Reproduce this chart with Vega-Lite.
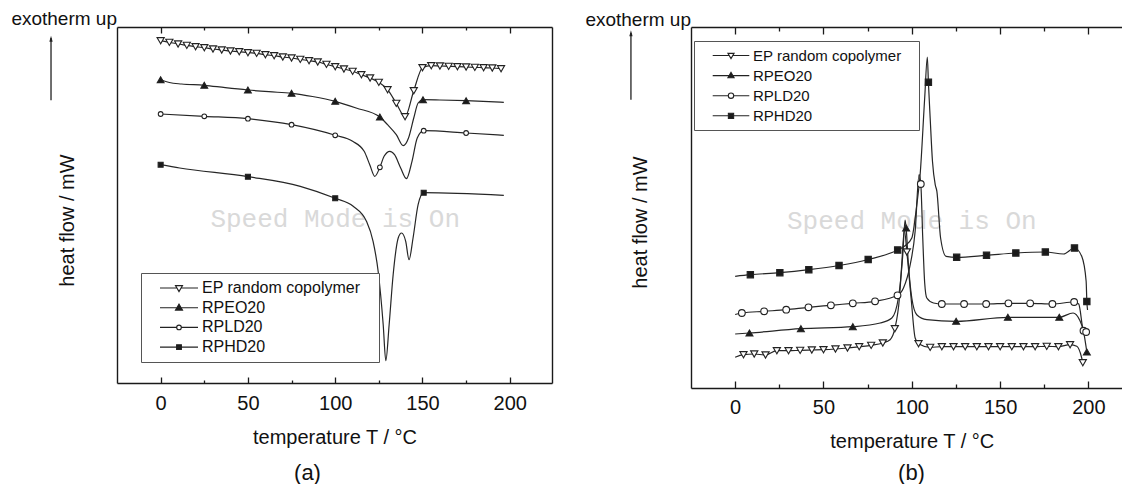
{
"$schema": "https://vega.github.io/schema/vega-lite/v6.json",
"padding": {"left": 11, "top": 10, "right": 0, "bottom": 0},
"bounds": "flush",
"spacing": 139,
"config": {
  "font": "Liberation Sans",
  "view": {"stroke": null},
  "axis": {"grid": false, "domainColor": "#1a1a1a", "domainWidth": 1.4, "tickColor": "#1a1a1a", "tickWidth": 1.3, "labelColor": "#111", "labelFontSize": 20, "labelFont": "Liberation Sans", "titleFont": "Liberation Sans", "titleFontSize": 20, "titleFontWeight": "normal", "titleColor": "#111"},
  "legend": {"labelFont": "Liberation Sans", "labelColor": "#111", "labelLimit": 400},
  "title": {"font": "Liberation Sans", "color": "#111"}
},
"datasets": {
"a_curves": [
{"s":"EP random copolymer","T":0,"v":342.3},{"s":"EP random copolymer","T":5,"v":340.7},{"s":"EP random copolymer","T":10,"v":339},{"s":"EP random copolymer","T":15,"v":337.7},{"s":"EP random copolymer","T":20,"v":336.3},{"s":"EP random copolymer","T":25,"v":335.3},{"s":"EP random copolymer","T":30,"v":334},{"s":"EP random copolymer","T":35,"v":333},{"s":"EP random copolymer","T":40,"v":332},{"s":"EP random copolymer","T":45,"v":331.3},{"s":"EP random copolymer","T":50,"v":330.3},{"s":"EP random copolymer","T":55,"v":329.7},{"s":"EP random copolymer","T":60,"v":328.3},{"s":"EP random copolymer","T":65,"v":327.3},{"s":"EP random copolymer","T":70,"v":326},{"s":"EP random copolymer","T":75,"v":325},{"s":"EP random copolymer","T":80,"v":323.7},{"s":"EP random copolymer","T":85,"v":322.3},{"s":"EP random copolymer","T":90,"v":321},{"s":"EP random copolymer","T":95,"v":318.7},{"s":"EP random copolymer","T":100,"v":316.3},{"s":"EP random copolymer","T":105,"v":314},{"s":"EP random copolymer","T":110,"v":311.7},{"s":"EP random copolymer","T":115,"v":308.3},{"s":"EP random copolymer","T":120,"v":305},{"s":"EP random copolymer","T":125,"v":300.7},{"s":"EP random copolymer","T":130,"v":293.3},{"s":"EP random copolymer","T":135,"v":279.7},{"s":"EP random copolymer","T":140,"v":266.3},{"s":"EP random copolymer","T":145,"v":292.3},{"s":"EP random copolymer","T":150,"v":315.3},{"s":"EP random copolymer","T":155,"v":317.3},{"s":"EP random copolymer","T":160,"v":317},{"s":"EP random copolymer","T":165,"v":316.7},{"s":"EP random copolymer","T":170,"v":316.3},{"s":"EP random copolymer","T":175,"v":316},{"s":"EP random copolymer","T":180,"v":315.7},{"s":"EP random copolymer","T":185,"v":315.3},{"s":"EP random copolymer","T":190,"v":315},{"s":"EP random copolymer","T":195,"v":314.3},
{"s":"RPEO20","T":0,"v":303.3},{"s":"RPEO20","T":5,"v":300.5},{"s":"RPEO20","T":12,"v":299},{"s":"RPEO20","T":25,"v":297.7},{"s":"RPEO20","T":37,"v":295.3},{"s":"RPEO20","T":50,"v":293},{"s":"RPEO20","T":62,"v":291.3},{"s":"RPEO20","T":75,"v":289.7},{"s":"RPEO20","T":87,"v":286.5},{"s":"RPEO20","T":100,"v":281.7},{"s":"RPEO20","T":112,"v":275},{"s":"RPEO20","T":125.6,"v":266},{"s":"RPEO20","T":130,"v":258.3},{"s":"RPEO20","T":135,"v":248.3},{"s":"RPEO20","T":139,"v":237.3},{"s":"RPEO20","T":142,"v":245},{"s":"RPEO20","T":145,"v":265},{"s":"RPEO20","T":147.5,"v":280},{"s":"RPEO20","T":150.3,"v":283.3},{"s":"RPEO20","T":160,"v":283},{"s":"RPEO20","T":175,"v":282.3},{"s":"RPEO20","T":196.6,"v":280.7},
{"s":"RPLD20","T":0,"v":269},{"s":"RPLD20","T":25,"v":266.7},{"s":"RPLD20","T":50,"v":264.3},{"s":"RPLD20","T":75,"v":258.3},{"s":"RPLD20","T":100,"v":247.7},{"s":"RPLD20","T":110,"v":241.7},{"s":"RPLD20","T":116.6,"v":231.7},{"s":"RPLD20","T":119.8,"v":218.3},{"s":"RPLD20","T":122.7,"v":206.7},{"s":"RPLD20","T":125.6,"v":215.7},{"s":"RPLD20","T":128,"v":226.7},{"s":"RPLD20","T":131.3,"v":231.7},{"s":"RPLD20","T":134,"v":228.3},{"s":"RPLD20","T":137.5,"v":215},{"s":"RPLD20","T":140.8,"v":204.3},{"s":"RPLD20","T":144,"v":221.7},{"s":"RPLD20","T":147,"v":245},{"s":"RPLD20","T":150.7,"v":252.3},{"s":"RPLD20","T":175,"v":250},{"s":"RPLD20","T":196.6,"v":247.7},
{"s":"RPHD20","T":0,"v":218.3},{"s":"RPHD20","T":10.9,"v":215},{"s":"RPHD20","T":50,"v":206.3},{"s":"RPHD20","T":80,"v":196.7},{"s":"RPHD20","T":100,"v":184.7},{"s":"RPHD20","T":110.3,"v":176.7},{"s":"RPHD20","T":117.9,"v":161.7},{"s":"RPHD20","T":121.7,"v":141.7},{"s":"RPHD20","T":124.6,"v":111.7},{"s":"RPHD20","T":127.5,"v":58.3},{"s":"RPHD20","T":129,"v":22.3},{"s":"RPHD20","T":130.9,"v":58.3},{"s":"RPHD20","T":133.2,"v":108.3},{"s":"RPHD20","T":136.1,"v":145},{"s":"RPHD20","T":138,"v":150},{"s":"RPHD20","T":140.4,"v":141.7},{"s":"RPHD20","T":142.3,"v":123.3},{"s":"RPHD20","T":144.6,"v":145},{"s":"RPHD20","T":147.5,"v":178.3},{"s":"RPHD20","T":150.7,"v":190.3},{"s":"RPHD20","T":196.6,"v":187.7}
],
"a_marks": [
{"s":"EP random copolymer","T":0,"v":342.3},{"s":"EP random copolymer","T":5,"v":340.7},{"s":"EP random copolymer","T":10,"v":339},{"s":"EP random copolymer","T":15,"v":337.7},{"s":"EP random copolymer","T":20,"v":336.3},{"s":"EP random copolymer","T":25,"v":335.3},{"s":"EP random copolymer","T":30,"v":334},{"s":"EP random copolymer","T":35,"v":333},{"s":"EP random copolymer","T":40,"v":332},{"s":"EP random copolymer","T":45,"v":331.3},{"s":"EP random copolymer","T":50,"v":330.3},{"s":"EP random copolymer","T":55,"v":329.7},{"s":"EP random copolymer","T":60,"v":328.3},{"s":"EP random copolymer","T":65,"v":327.3},{"s":"EP random copolymer","T":70,"v":326},{"s":"EP random copolymer","T":75,"v":325},{"s":"EP random copolymer","T":80,"v":323.7},{"s":"EP random copolymer","T":85,"v":322.3},{"s":"EP random copolymer","T":90,"v":321},{"s":"EP random copolymer","T":95,"v":318.7},{"s":"EP random copolymer","T":100,"v":316.3},{"s":"EP random copolymer","T":105,"v":314},{"s":"EP random copolymer","T":110,"v":311.7},{"s":"EP random copolymer","T":115,"v":308.3},{"s":"EP random copolymer","T":120,"v":305},{"s":"EP random copolymer","T":125,"v":300.7},{"s":"EP random copolymer","T":130,"v":293.3},{"s":"EP random copolymer","T":135,"v":279.7},{"s":"EP random copolymer","T":140,"v":266.3},{"s":"EP random copolymer","T":145,"v":292.3},{"s":"EP random copolymer","T":150,"v":315.3},{"s":"EP random copolymer","T":155,"v":317.3},{"s":"EP random copolymer","T":160,"v":317},{"s":"EP random copolymer","T":165,"v":316.7},{"s":"EP random copolymer","T":170,"v":316.3},{"s":"EP random copolymer","T":175,"v":316},{"s":"EP random copolymer","T":180,"v":315.7},{"s":"EP random copolymer","T":185,"v":315.3},{"s":"EP random copolymer","T":190,"v":315},{"s":"EP random copolymer","T":195,"v":314.3},
{"s":"RPEO20","T":0,"v":303.3},{"s":"RPEO20","T":25,"v":297.7},{"s":"RPEO20","T":50,"v":293},{"s":"RPEO20","T":75,"v":289.7},{"s":"RPEO20","T":100,"v":281.7},{"s":"RPEO20","T":125.6,"v":266},{"s":"RPEO20","T":150.3,"v":283.3},{"s":"RPEO20","T":175,"v":282.3},
{"s":"RPLD20","T":0,"v":269},{"s":"RPLD20","T":25,"v":266.7},{"s":"RPLD20","T":50,"v":264.3},{"s":"RPLD20","T":75,"v":258.3},{"s":"RPLD20","T":100,"v":247.7},{"s":"RPLD20","T":125.6,"v":215.7},{"s":"RPLD20","T":150.7,"v":252.3},{"s":"RPLD20","T":175,"v":250},
{"s":"RPHD20","T":0,"v":218.3},{"s":"RPHD20","T":50,"v":206.3},{"s":"RPHD20","T":100,"v":184.7},{"s":"RPHD20","T":150.7,"v":190.3}
],
"b_curves": [
{"s":"EP random copolymer","T":0,"v":30.7},{"s":"EP random copolymer","T":4.7,"v":33.3},{"s":"EP random copolymer","T":10.8,"v":34},{"s":"EP random copolymer","T":17.2,"v":33},{"s":"EP random copolymer","T":23.6,"v":37.3},{"s":"EP random copolymer","T":30.2,"v":37.3},{"s":"EP random copolymer","T":36.8,"v":37.7},{"s":"EP random copolymer","T":43.4,"v":38},{"s":"EP random copolymer","T":50,"v":38.3},{"s":"EP random copolymer","T":56.8,"v":39},{"s":"EP random copolymer","T":63.6,"v":40},{"s":"EP random copolymer","T":70.2,"v":41.3},{"s":"EP random copolymer","T":77,"v":42.7},{"s":"EP random copolymer","T":83.6,"v":45},{"s":"EP random copolymer","T":87.7,"v":48.3},{"s":"EP random copolymer","T":90.4,"v":59.3},{"s":"EP random copolymer","T":93,"v":90},{"s":"EP random copolymer","T":94.3,"v":123.3},{"s":"EP random copolymer","T":95.8,"v":158},{"s":"EP random copolymer","T":97.2,"v":136},{"s":"EP random copolymer","T":99.6,"v":90},{"s":"EP random copolymer","T":101.9,"v":50},{"s":"EP random copolymer","T":103.8,"v":44.3},{"s":"EP random copolymer","T":110.4,"v":40.7},{"s":"EP random copolymer","T":117,"v":41.3},{"s":"EP random copolymer","T":123.6,"v":41.3},{"s":"EP random copolymer","T":130.2,"v":41.3},{"s":"EP random copolymer","T":136.8,"v":41.3},{"s":"EP random copolymer","T":143.4,"v":41.3},{"s":"EP random copolymer","T":150,"v":41.3},{"s":"EP random copolymer","T":156.6,"v":41.3},{"s":"EP random copolymer","T":163.2,"v":41.3},{"s":"EP random copolymer","T":169.8,"v":41.3},{"s":"EP random copolymer","T":176.4,"v":41.7},{"s":"EP random copolymer","T":183,"v":41.3},{"s":"EP random copolymer","T":189.6,"v":43.3},{"s":"EP random copolymer","T":193.4,"v":41.7},{"s":"EP random copolymer","T":196.2,"v":30},{"s":"EP random copolymer","T":196.8,"v":25.3},
{"s":"RPEO20","T":0,"v":54},{"s":"RPEO20","T":8.1,"v":55},{"s":"RPEO20","T":37.2,"v":59.3},{"s":"RPEO20","T":66.6,"v":61.3},{"s":"RPEO20","T":82.1,"v":65},{"s":"RPEO20","T":88.7,"v":70},{"s":"RPEO20","T":92.4,"v":90},{"s":"RPEO20","T":94.9,"v":133.3},{"s":"RPEO20","T":96.2,"v":168},{"s":"RPEO20","T":96.8,"v":160},{"s":"RPEO20","T":98.1,"v":123.3},{"s":"RPEO20","T":100,"v":90},{"s":"RPEO20","T":102.8,"v":73.3},{"s":"RPEO20","T":108.5,"v":68.3},{"s":"RPEO20","T":125.1,"v":66.7},{"s":"RPEO20","T":154.4,"v":70.7},{"s":"RPEO20","T":183.5,"v":70.7},{"s":"RPEO20","T":191.3,"v":75},{"s":"RPEO20","T":195,"v":68},{"s":"RPEO20","T":197.2,"v":56.7},{"s":"RPEO20","T":199.1,"v":36},
{"s":"RPLD20","T":0,"v":73.5},{"s":"RPLD20","T":3.8,"v":75},{"s":"RPLD20","T":16.4,"v":76.7},{"s":"RPLD20","T":28.9,"v":78.3},{"s":"RPLD20","T":41.5,"v":80.7},{"s":"RPLD20","T":54.2,"v":82.7},{"s":"RPLD20","T":66.6,"v":84.7},{"s":"RPLD20","T":79.2,"v":86.7},{"s":"RPLD20","T":91.9,"v":92.7},{"s":"RPLD20","T":95.3,"v":100},{"s":"RPLD20","T":99.1,"v":123.3},{"s":"RPLD20","T":101.9,"v":156.7},{"s":"RPLD20","T":104.1,"v":213.3},{"s":"RPLD20","T":105.1,"v":204},{"s":"RPLD20","T":106.2,"v":150},{"s":"RPLD20","T":107.3,"v":105},{"s":"RPLD20","T":108.5,"v":90},{"s":"RPLD20","T":112.3,"v":85},{"s":"RPLD20","T":117,"v":84},{"s":"RPLD20","T":129.6,"v":84},{"s":"RPLD20","T":142.1,"v":84},{"s":"RPLD20","T":154.7,"v":84.7},{"s":"RPLD20","T":167,"v":84.7},{"s":"RPLD20","T":179.6,"v":84},{"s":"RPLD20","T":191.9,"v":86},{"s":"RPLD20","T":194.5,"v":84},{"s":"RPLD20","T":197.2,"v":57.3},{"s":"RPLD20","T":198.7,"v":56},
{"s":"RPHD20","T":0,"v":111.7},{"s":"RPHD20","T":8.6,"v":113.3},{"s":"RPHD20","T":25.3,"v":115.3},{"s":"RPHD20","T":41.7,"v":118.3},{"s":"RPHD20","T":58.8,"v":122.5},{"s":"RPHD20","T":75.3,"v":128.5},{"s":"RPHD20","T":92,"v":138},{"s":"RPHD20","T":96,"v":142},{"s":"RPHD20","T":100,"v":150},{"s":"RPHD20","T":102.8,"v":183},{"s":"RPHD20","T":104.7,"v":213},{"s":"RPHD20","T":107.3,"v":290},{"s":"RPHD20","T":108.8,"v":331},{"s":"RPHD20","T":109.4,"v":305.7},{"s":"RPHD20","T":110.4,"v":270},{"s":"RPHD20","T":111.7,"v":226.7},{"s":"RPHD20","T":113.3,"v":203},{"s":"RPHD20","T":114.2,"v":196.7},{"s":"RPHD20","T":116.3,"v":150},{"s":"RPHD20","T":119.4,"v":131.7},{"s":"RPHD20","T":125.4,"v":130.7},{"s":"RPHD20","T":142.3,"v":132.7},{"s":"RPHD20","T":158.9,"v":135},{"s":"RPHD20","T":175.6,"v":136},{"s":"RPHD20","T":185.9,"v":134},{"s":"RPHD20","T":192.1,"v":140},{"s":"RPHD20","T":196.2,"v":131.7},{"s":"RPHD20","T":198.7,"v":106.7},{"s":"RPHD20","T":199.1,"v":86.5},{"s":"RPHD20","T":199.5,"v":78}
],
"b_marks": [
{"s":"EP random copolymer","T":4.7,"v":33.3},{"s":"EP random copolymer","T":10.8,"v":34},{"s":"EP random copolymer","T":17.2,"v":33},{"s":"EP random copolymer","T":23.6,"v":37.3},{"s":"EP random copolymer","T":30.2,"v":37.3},{"s":"EP random copolymer","T":36.8,"v":37.7},{"s":"EP random copolymer","T":43.4,"v":38},{"s":"EP random copolymer","T":50,"v":38.3},{"s":"EP random copolymer","T":56.8,"v":39},{"s":"EP random copolymer","T":63.6,"v":40},{"s":"EP random copolymer","T":70.2,"v":41.3},{"s":"EP random copolymer","T":77,"v":42.7},{"s":"EP random copolymer","T":83.6,"v":45},{"s":"EP random copolymer","T":90.4,"v":59.3},{"s":"EP random copolymer","T":97.2,"v":136},{"s":"EP random copolymer","T":103.8,"v":44.3},{"s":"EP random copolymer","T":110.4,"v":40.7},{"s":"EP random copolymer","T":117,"v":41.3},{"s":"EP random copolymer","T":123.6,"v":41.3},{"s":"EP random copolymer","T":130.2,"v":41.3},{"s":"EP random copolymer","T":136.8,"v":41.3},{"s":"EP random copolymer","T":143.4,"v":41.3},{"s":"EP random copolymer","T":150,"v":41.3},{"s":"EP random copolymer","T":156.6,"v":41.3},{"s":"EP random copolymer","T":163.2,"v":41.3},{"s":"EP random copolymer","T":169.8,"v":41.3},{"s":"EP random copolymer","T":176.4,"v":41.7},{"s":"EP random copolymer","T":183,"v":41.3},{"s":"EP random copolymer","T":189.6,"v":43.3},{"s":"EP random copolymer","T":196.8,"v":25.3},
{"s":"RPEO20","T":8.1,"v":55},{"s":"RPEO20","T":37.2,"v":59.3},{"s":"RPEO20","T":66.6,"v":61.3},{"s":"RPEO20","T":96.8,"v":160},{"s":"RPEO20","T":125.1,"v":66.7},{"s":"RPEO20","T":154.4,"v":70.7},{"s":"RPEO20","T":183.5,"v":70.7},{"s":"RPEO20","T":199.1,"v":36},
{"s":"RPLD20","T":3.8,"v":75},{"s":"RPLD20","T":16.4,"v":76.7},{"s":"RPLD20","T":28.9,"v":78.3},{"s":"RPLD20","T":41.5,"v":80.7},{"s":"RPLD20","T":54.2,"v":82.7},{"s":"RPLD20","T":66.6,"v":84.7},{"s":"RPLD20","T":79.2,"v":86.7},{"s":"RPLD20","T":91.9,"v":92.7},{"s":"RPLD20","T":105.1,"v":204},{"s":"RPLD20","T":117,"v":84},{"s":"RPLD20","T":129.6,"v":84},{"s":"RPLD20","T":142.1,"v":84},{"s":"RPLD20","T":154.7,"v":84.7},{"s":"RPLD20","T":167,"v":84.7},{"s":"RPLD20","T":179.6,"v":84},{"s":"RPLD20","T":191.9,"v":86},{"s":"RPLD20","T":197.2,"v":57.3},{"s":"RPLD20","T":198.7,"v":56},
{"s":"RPHD20","T":8.6,"v":113.3},{"s":"RPHD20","T":25.3,"v":115.3},{"s":"RPHD20","T":41.7,"v":118.3},{"s":"RPHD20","T":58.8,"v":122.5},{"s":"RPHD20","T":75.3,"v":128.5},{"s":"RPHD20","T":92,"v":138},{"s":"RPHD20","T":109.4,"v":305.7},{"s":"RPHD20","T":125.4,"v":130.7},{"s":"RPHD20","T":142.3,"v":132.7},{"s":"RPHD20","T":158.9,"v":135},{"s":"RPHD20","T":175.6,"v":136},{"s":"RPHD20","T":192.1,"v":140},{"s":"RPHD20","T":199.1,"v":86.5}
]
},
"hconcat": [
{
  "width": 435, "height": 356,
  "title": {"text": "(a)", "orient": "bottom", "anchor": "middle", "dx": -27, "offset": 16, "fontSize": 22, "fontWeight": "normal", "color": "#111"},
  "layer": [
    {"data": {"values": [{"w": "Speed Mode is On"}]},
     "mark": {"type": "text", "font": "Liberation Mono", "fontSize": 26, "color": "#d9d9d9", "align": "center", "baseline": "middle"},
     "encoding": {
       "text": {"field": "w"},
       "x": {"datum": 100, "type": "quantitative", "scale": {"domain": [-25, 224.2], "nice": false, "zero": false}, "axis": {"orient": "bottom", "values": [25, 75, 125, 175], "tickSize": -3, "labels": false, "domain": false, "title": null}},
       "y": {"datum": 164, "type": "quantitative", "scale": {"domain": [0, 356], "nice": false, "zero": false}, "axis": null}
     }},
    {"data": {"name": "a_curves"},
     "mark": {"type": "line", "interpolate": "monotone", "color": "#262626", "strokeWidth": 1.2},
     "encoding": {
       "x": {"field": "T", "type": "quantitative", "scale": {"domain": [-25, 224.2], "nice": false, "zero": false}, "axis": {"orient": "bottom", "values": [0, 50, 100, 150, 200], "tickSize": -6, "labelPadding": 16, "domain": true, "title": "temperature T / °C", "titlePadding": 14}},
       "y": {"field": "v", "type": "quantitative", "scale": {"domain": [0, 356], "nice": false, "zero": false}, "axis": {"orient": "left", "ticks": false, "labels": false, "domain": true, "title": "heat flow / mW", "titlePadding": 40, "titleY": 193}},
       "detail": {"field": "s"}
     }},
    {"data": {"name": "a_marks"},
     "mark": {"type": "point", "filled": true, "stroke": "#222", "strokeWidth": 1.1, "opacity": 1},
     "encoding": {
       "x": {"field": "T", "type": "quantitative", "scale": {"domain": [-25, 224.2], "nice": false, "zero": false}, "axis": {"orient": "top", "values": [0, 50, 100, 150, 200], "tickSize": -6, "labels": false, "domain": true, "title": null}},
       "y": {"field": "v", "type": "quantitative", "scale": {"domain": [0, 356], "nice": false, "zero": false}, "axis": {"orient": "right", "ticks": false, "labels": false, "domain": true, "title": null}},
       "shape": {"condition": [{"test": "datum.s === 'EP random copolymer'", "value": "triangle-down"}, {"test": "datum.s === 'RPEO20'", "value": "triangle-up"}, {"test": "datum.s === 'RPLD20'", "value": "circle"}], "value": "square"},
       "fill": {"condition": {"test": "datum.s === 'RPEO20' || datum.s === 'RPHD20'", "value": "#1a1a1a"}, "value": "#ffffff"},
       "size": {"condition": [{"test": "datum.s === 'EP random copolymer'", "value": 52}, {"test": "datum.s === 'RPEO20'", "value": 46}, {"test": "datum.s === 'RPLD20'", "value": 22}], "value": 25}
     }},
    {"data": {"name": "a_marks"},
     "mark": {"type": "point", "filled": true, "strokeWidth": 1.1, "opacity": 0, "size": 10},
     "encoding": {
       "x": {"field": "T", "type": "quantitative", "scale": {"domain": [-25, 224.2], "nice": false, "zero": false}, "axis": null},
       "y": {"field": "v", "type": "quantitative", "scale": {"domain": [0, 356], "nice": false, "zero": false}, "axis": null},
       "shape": {"field": "s", "type": "nominal", "scale": {"domain": ["EP random copolymer", "RPEO20", "RPLD20", "RPHD20"], "range": ["M-2.375,0H-0.26M0.26,0H2.375M-0.44,-0.3H0.44L0,0.45Z", "M-2.375,0H2.375M-0.44,0.3H0.44L0,-0.45Z", "M-2.375,0H-0.29M0.29,0H2.375M0.29,0A0.29,0.29,0,1,1,-0.29,0A0.29,0.29,0,1,1,0.29,0Z", "M-2.375,0H2.375M-0.3,-0.3H0.3V0.3H-0.3Z"]},
         "legend": {"orient": "none", "legendX": 24, "legendY": 246, "title": null, "padding": 6, "rowPadding": 2.7, "strokeColor": "#555", "fillColor": "#ffffff", "symbolSize": 256, "symbolOffset": 23, "labelOffset": 14, "labelFontSize": 16, "labelFont": "Liberation Sans", "labelColor": "#111", "labelLimit": 400, "labelExpr": "datum.label + '\u2800'", "symbolStrokeWidth": 1.1, "symbolOpacity": 1}},
       "fill": {"field": "s", "type": "nominal", "scale": {"domain": ["EP random copolymer", "RPEO20", "RPLD20", "RPHD20"], "range": ["#ffffff", "#1a1a1a", "#ffffff", "#1a1a1a"]},
         "legend": {"orient": "none", "legendX": 24, "legendY": 246, "title": null, "padding": 6, "rowPadding": 2.7, "strokeColor": "#555", "fillColor": "#ffffff", "symbolSize": 256, "symbolOffset": 23, "labelOffset": 14, "labelFontSize": 16, "labelFont": "Liberation Sans", "labelColor": "#111", "labelLimit": 400, "labelExpr": "datum.label + '\u2800'", "symbolStrokeWidth": 1.1, "symbolOpacity": 1}},
       "stroke": {"field": "s", "type": "nominal", "scale": {"domain": ["EP random copolymer", "RPEO20", "RPLD20", "RPHD20"], "range": ["#222222", "#222222", "#222222", "#222222"]},
         "legend": {"orient": "none", "legendX": 24, "legendY": 246, "title": null, "padding": 6, "rowPadding": 2.7, "strokeColor": "#555", "fillColor": "#ffffff", "symbolSize": 256, "symbolOffset": 23, "labelOffset": 14, "labelFontSize": 16, "labelFont": "Liberation Sans", "labelColor": "#111", "labelLimit": 400, "labelExpr": "datum.label + '\u2800'", "symbolStrokeWidth": 1.1, "symbolOpacity": 1}}
     }},
    {"data": {"values": [{"w": "exotherm up"}]},
     "mark": {"type": "text", "fontSize": 19, "color": "#111", "align": "right", "baseline": "alphabetic"},
     "encoding": {
       "text": {"field": "w"},
       "x": {"datum": -25, "type": "quantitative", "scale": {"domain": [-25, 224.2], "nice": false, "zero": false}, "axis": {"orient": "top", "values": [25, 75, 125, 175], "tickSize": -3, "labels": false, "domain": false, "title": null}},
       "y": {"datum": 357.7, "type": "quantitative", "scale": {"domain": [0, 356], "nice": false, "zero": false}, "axis": null}
     }},
    {"data": {"values": [{}]},
     "mark": {"type": "rule", "color": "#222", "strokeWidth": 1.3},
     "encoding": {
       "x": {"datum": -62.8, "type": "quantitative", "scale": {"domain": [-25, 224.2], "nice": false, "zero": false}, "axis": null},
       "y": {"datum": 282.7, "type": "quantitative", "scale": {"domain": [0, 356], "nice": false, "zero": false}, "axis": null},
       "y2": {"datum": 345}
     }},
    {"data": {"values": [{}]},
     "mark": {"type": "point", "shape": "M0,0L-0.55,2L0.55,2Z", "size": 36, "filled": true, "color": "#222", "opacity": 1},
     "encoding": {
       "x": {"datum": -62.8, "type": "quantitative", "scale": {"domain": [-25, 224.2], "nice": false, "zero": false}, "axis": null},
       "y": {"datum": 347.3, "type": "quantitative", "scale": {"domain": [0, 356], "nice": false, "zero": false}, "axis": null}
     }}
  ],
  "resolve": {"axis": {"x": "independent", "y": "independent"}}
},
{
  "width": 431, "height": 361,
  "title": {"text": "(b)", "orient": "bottom", "anchor": "middle", "dx": 5, "offset": 12, "fontSize": 22, "fontWeight": "normal", "color": "#111"},
  "layer": [
    {"data": {"values": [{"w": "Speed Mode is On"}]},
     "mark": {"type": "text", "font": "Liberation Mono", "fontSize": 26, "color": "#d9d9d9", "align": "center", "baseline": "middle"},
     "encoding": {
       "text": {"field": "w"},
       "x": {"datum": 100, "type": "quantitative", "scale": {"domain": [-25, 219], "nice": false, "zero": false}, "axis": {"orient": "bottom", "values": [25, 75, 125, 175], "tickSize": -4, "labels": false, "domain": false, "title": null}},
       "y": {"datum": 166.7, "type": "quantitative", "scale": {"domain": [0, 361], "nice": false, "zero": false}, "axis": null}
     }},
    {"data": {"name": "b_curves"},
     "mark": {"type": "line", "interpolate": "monotone", "color": "#262626", "strokeWidth": 1.2},
     "encoding": {
       "x": {"field": "T", "type": "quantitative", "scale": {"domain": [-25, 219], "nice": false, "zero": false}, "axis": {"orient": "bottom", "values": [0, 50, 100, 150, 200], "tickSize": -7, "labelPadding": 16, "domain": true, "title": "temperature T / °C", "titlePadding": 14, "titleX": 220.8}},
       "y": {"field": "v", "type": "quantitative", "scale": {"domain": [0, 361], "nice": false, "zero": false}, "axis": {"orient": "left", "ticks": false, "labels": false, "domain": true, "title": "heat flow / mW", "titlePadding": 41, "titleY": 195}},
       "detail": {"field": "s"}
     }},
    {"data": {"name": "b_marks"},
     "mark": {"type": "point", "filled": true, "stroke": "#222", "strokeWidth": 1.1, "opacity": 1},
     "encoding": {
       "x": {"field": "T", "type": "quantitative", "scale": {"domain": [-25, 219], "nice": false, "zero": false}, "axis": {"orient": "top", "values": [0, 50, 100, 150, 200], "tickSize": -7, "labels": false, "domain": true, "title": null}},
       "y": {"field": "v", "type": "quantitative", "scale": {"domain": [0, 361], "nice": false, "zero": false}, "axis": null},
       "shape": {"condition": [{"test": "datum.s === 'EP random copolymer'", "value": "triangle-down"}, {"test": "datum.s === 'RPEO20'", "value": "triangle-up"}, {"test": "datum.s === 'RPLD20'", "value": "circle"}], "value": "square"},
       "fill": {"condition": {"test": "datum.s === 'RPEO20' || datum.s === 'RPHD20'", "value": "#1a1a1a"}, "value": "#ffffff"},
       "size": {"condition": [{"test": "datum.s === 'EP random copolymer'", "value": 52}, {"test": "datum.s === 'RPEO20'", "value": 48}, {"test": "datum.s === 'RPLD20'", "value": 45}], "value": 40}
     }},
    {"data": {"name": "b_marks"},
     "mark": {"type": "point", "filled": true, "strokeWidth": 1.1, "opacity": 0, "size": 10},
     "encoding": {
       "x": {"field": "T", "type": "quantitative", "scale": {"domain": [-25, 219], "nice": false, "zero": false}, "axis": null},
       "y": {"field": "v", "type": "quantitative", "scale": {"domain": [0, 361], "nice": false, "zero": false}, "axis": null},
       "shape": {"field": "s", "type": "nominal", "scale": {"domain": ["EP random copolymer", "RPEO20", "RPLD20", "RPHD20"], "range": ["M-2.44,0H-0.25M0.25,0H2.44M-0.41,-0.28H0.41L0,0.42Z", "M-2.44,0H2.44M-0.41,0.28H0.41L0,-0.42Z", "M-2.44,0H-0.36M0.36,0H2.44M0.36,0A0.36,0.36,0,1,1,-0.36,0A0.36,0.36,0,1,1,0.36,0Z", "M-2.44,0H2.44M-0.35,-0.35H0.35V0.35H-0.35Z"]},
         "legend": {"orient": "none", "legendX": 3, "legendY": 14, "title": null, "padding": 6, "rowPadding": 3.1, "strokeColor": "#555", "fillColor": "#ffffff", "symbolSize": 225, "symbolOffset": 22.5, "labelOffset": 13.5, "labelFontSize": 15, "labelFont": "Liberation Sans", "labelColor": "#111", "labelLimit": 400, "labelExpr": "datum.label + '\u2800'", "symbolStrokeWidth": 1.1, "symbolOpacity": 1}},
       "fill": {"field": "s", "type": "nominal", "scale": {"domain": ["EP random copolymer", "RPEO20", "RPLD20", "RPHD20"], "range": ["#ffffff", "#1a1a1a", "#ffffff", "#1a1a1a"]},
         "legend": {"orient": "none", "legendX": 3, "legendY": 14, "title": null, "padding": 6, "rowPadding": 3.1, "strokeColor": "#555", "fillColor": "#ffffff", "symbolSize": 225, "symbolOffset": 22.5, "labelOffset": 13.5, "labelFontSize": 15, "labelFont": "Liberation Sans", "labelColor": "#111", "labelLimit": 400, "labelExpr": "datum.label + '\u2800'", "symbolStrokeWidth": 1.1, "symbolOpacity": 1}},
       "stroke": {"field": "s", "type": "nominal", "scale": {"domain": ["EP random copolymer", "RPEO20", "RPLD20", "RPHD20"], "range": ["#222222", "#222222", "#222222", "#222222"]},
         "legend": {"orient": "none", "legendX": 3, "legendY": 14, "title": null, "padding": 6, "rowPadding": 3.1, "strokeColor": "#555", "fillColor": "#ffffff", "symbolSize": 225, "symbolOffset": 22.5, "labelOffset": 13.5, "labelFontSize": 15, "labelFont": "Liberation Sans", "labelColor": "#111", "labelLimit": 400, "labelExpr": "datum.label + '\u2800'", "symbolStrokeWidth": 1.1, "symbolOpacity": 1}}
     }},
    {"data": {"values": [{"w": "exotherm up"}]},
     "mark": {"type": "text", "fontSize": 19, "color": "#111", "align": "right", "baseline": "alphabetic"},
     "encoding": {
       "text": {"field": "w"},
       "x": {"datum": -25, "type": "quantitative", "scale": {"domain": [-25, 219], "nice": false, "zero": false}, "axis": {"orient": "top", "values": [25, 75, 125, 175], "tickSize": -4, "labels": false, "domain": false, "title": null}},
       "y": {"datum": 361.7, "type": "quantitative", "scale": {"domain": [0, 361], "nice": false, "zero": false}, "axis": null}
     }},
    {"data": {"values": [{}]},
     "mark": {"type": "rule", "color": "#222", "strokeWidth": 1.3},
     "encoding": {
       "x": {"datum": -59, "type": "quantitative", "scale": {"domain": [-25, 219], "nice": false, "zero": false}, "axis": null},
       "y": {"datum": 288.3, "type": "quantitative", "scale": {"domain": [0, 361], "nice": false, "zero": false}, "axis": null},
       "y2": {"datum": 355}
     }},
    {"data": {"values": [{}]},
     "mark": {"type": "point", "shape": "M0,0L-0.55,2L0.55,2Z", "size": 36, "filled": true, "color": "#222", "opacity": 1},
     "encoding": {
       "x": {"datum": -59, "type": "quantitative", "scale": {"domain": [-25, 219], "nice": false, "zero": false}, "axis": null},
       "y": {"datum": 357.7, "type": "quantitative", "scale": {"domain": [0, 361], "nice": false, "zero": false}, "axis": null}
     }}
  ],
  "resolve": {"axis": {"x": "independent", "y": "independent"}}
}
],
"resolve": {"scale": {"x": "independent", "y": "independent", "shape": "independent", "fill": "independent", "stroke": "independent"}, "legend": {"shape": "independent", "fill": "independent", "stroke": "independent"}}
}
